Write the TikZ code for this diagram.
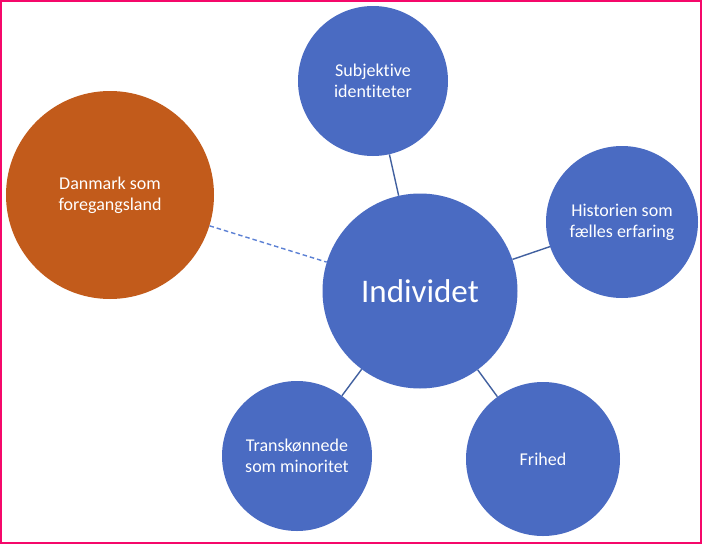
\documentclass[tikz,border=0pt]{standalone}
\usepackage{fontspec}
\setmainfont[Ligatures={NoCommon}]{Carlito}
\definecolor{cblue}{HTML}{4A6BC2}
\definecolor{corange}{HTML}{C25B1B}
\definecolor{linkc}{HTML}{41609F}
\definecolor{dashc}{HTML}{5B80D4}
\definecolor{framec}{HTML}{F5086A}
\tikzset{
  bubble/.style={circle, fill=cblue, text=white, align=center, inner sep=0pt, font=\fontsize{18}{21}\selectfont},
  link/.style={draw=linkc, line width=1.4pt},
  dlink/.style={draw=dashc, line width=1.4pt, dash pattern=on 4.5pt off 3pt},
}
\begin{document}
\begin{tikzpicture}[x=1pt,y=-1pt]
\useasboundingbox (0,0) rectangle (702,544);
\fill[white] (0,0) rectangle (702,544);
\draw[framec, line width=2.2pt] (1.1,1.1) rectangle (700.6,542.6);

\node[bubble, minimum size=195pt, font=\fontsize{33}{38}\selectfont] (ind) at (420,291) {Individet};
\node[bubble, minimum size=150pt] (subj) at (373,81) {Subjektive\\identiteter};
\node[bubble, minimum size=152pt] (hist) at (622,222) {Historien som\\fælles erfaring};
\node[bubble, minimum size=154pt] (fri) at (543,459) {Frihed};
\node[bubble, minimum size=150pt] (trans) at (297,456) {Transkønnede\\som minoritet};
\node[bubble, fill=corange, minimum size=208pt] (dk) at (110,195) {Danmark som\\foregangsland};

\path[link] (ind) -- (subj);
\path[link] (ind) -- (hist);
\path[link] (ind) -- (fri);
\path[link] (ind) -- (trans);
\path[dlink] (dk) -- (ind);
\end{tikzpicture}
\end{document}
